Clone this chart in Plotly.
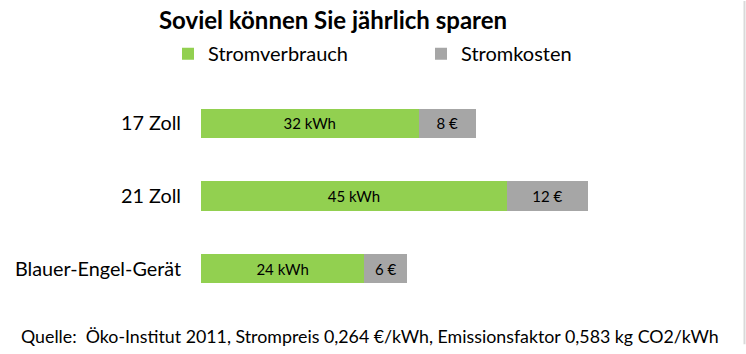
import plotly.graph_objects as go

categories = ["17 Zoll", "21 Zoll", "Blauer-Engel-Gerät"]
stromverbrauch_kwh = [32, 45, 24]
stromkosten_eur = [8.45, 11.88, 6.34]

FONT = "Lato"
GREEN = "#92D050"
GRAY = "#A6A6A6"

fig = go.Figure()
fig.add_trace(go.Bar(
    y=categories, x=stromverbrauch_kwh, orientation="h", name="Stromverbrauch",
    marker=dict(color=GREEN, line=dict(width=0)),
    texttemplate="%{x:.0f} kWh", textposition="inside", insidetextanchor="middle",
    textangle=0, constraintext="none",
    textfont=dict(family=FONT, size=15, color="#000000"),
))
fig.add_trace(go.Bar(
    y=categories, x=stromkosten_eur, orientation="h", name="Stromkosten",
    marker=dict(color=GRAY, line=dict(width=0)),
    texttemplate="%{x:.0f} €", textposition="inside", insidetextanchor="middle",
    textangle=0, constraintext="none",
    textfont=dict(family=FONT, size=15, color="#000000"),
))

fig.update_layout(
    width=746, height=354,
    barmode="stack", bargap=0.6,
    paper_bgcolor="white", plot_bgcolor="white",
    margin=dict(l=201, r=1, t=86.5, b=48.5),
    font=dict(family=FONT, color="#000000"),
    title=dict(text="<b>Soviel können Sie jährlich sparen</b>",
               x=333 / 746, xanchor="center", y=1 - 21 / 354, yanchor="middle",
               font=dict(family=FONT, size=24, color="#000000")),
    legend=dict(orientation="h", x=(168 - 201) / 544, xanchor="left",
                y=1 + (86.5 - 53) / 219, yanchor="middle",
                entrywidth=208, entrywidthmode="pixels",
                font=dict(family=FONT, size=20, color="#000000"),
                bgcolor="rgba(0,0,0,0)", traceorder="normal"),
    xaxis=dict(range=[0, 80], visible=False, showgrid=False, zeroline=False, fixedrange=True),
    yaxis=dict(autorange="reversed", showgrid=False, zeroline=False, showline=False,
               ticks="", ticklabelstandoff=19,
               tickfont=dict(family=FONT, size=19.8, color="#000000")),
    annotations=[dict(
        text="Quelle:  Öko-Institut 2011, Strompreis 0,264 €/kWh, Emissionsfaktor 0,583 kg CO2/kWh",
        xref="paper", yref="paper", x=(370 - 201) / 544, y=-(337 - 305.5) / 219,
        xanchor="center", yanchor="middle", showarrow=False,
        font=dict(family=FONT, size=17.8, color="#000000"))],
    shapes=[dict(type="line", xref="paper", yref="paper",
                 x0=(744.5 - 201) / 544, x1=(744.5 - 201) / 544,
                 y0=1 + 86.5 / 219, y1=-(345 - 305.5) / 219,
                 line=dict(color="#D9D9D9", width=2))],
)

fig.write_html("out.html")
